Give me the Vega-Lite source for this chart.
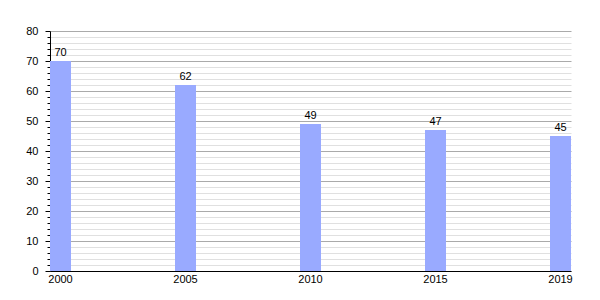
{
  "$schema": "https://vega.github.io/schema/vega-lite/v6.json",
  "width": 521,
  "height": 240,
  "autosize": {"type": "none"},
  "padding": {"left": 50, "top": 31, "right": 29, "bottom": 29},
  "background": "white",
  "config": {
    "view": {"stroke": null},
    "font": "Liberation Sans",
    "axis": {"labelFont": "Liberation Sans", "labelFontSize": 11, "labelColor": "black", "domainColor": "black", "titleFontSize": 11}
  },
  "data": {
    "values": [
      {"year": "2000", "value": 70},
      {"year": "2005", "value": 62},
      {"year": "2010", "value": 49},
      {"year": "2015", "value": 47},
      {"year": "2019", "value": 45}
    ]
  },
  "encoding": {
    "x": {
      "field": "year",
      "type": "ordinal",
      "scale": {"paddingInner": 0.832, "paddingOuter": 0, "align": 0},
      "axis": {"title": null, "labelAngle": 0, "ticks": false, "labelPadding": 2, "domainColor": "black", "grid": false}
    },
    "y": {
      "field": "value",
      "type": "quantitative",
      "scale": {"domain": [0, 80], "nice": false},
      "axis": {
        "title": null,
        "values": [0,2,4,6,8,10,12,14,16,18,20,22,24,26,28,30,32,34,36,38,40,42,44,46,48,50,52,54,56,58,60,62,64,66,68,70,72,74,76,78,80],
        "labelExpr": "datum.value % 10 === 0 ? datum.label : ''",
        "grid": true,
        "gridColor": {"condition": {"test": "datum.value % 10 === 0", "value": "#aaaaaa"}, "value": "#e0e0e0"},
        "tickColor": "black",
        "tickSize": {"condition": {"test": "datum.value % 10 === 0", "value": 5}, "value": 3},
        "labelPadding": 7,
        "domainColor": "black"
      }
    }
  },
  "layer": [
    {"mark": {"type": "bar", "color": "#99aaff"}},
    {
      "mark": {"type": "text", "baseline": "bottom", "dy": -3, "fontSize": 11, "font": "Liberation Sans", "color": "black"},
      "encoding": {"text": {"field": "value", "type": "quantitative"}}
    }
  ]
}
